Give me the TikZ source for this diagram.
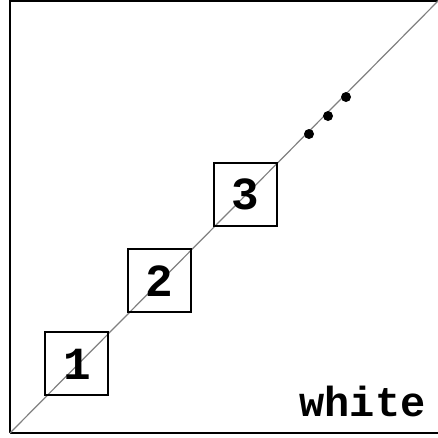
\documentclass[tikz,border=0pt]{standalone}
\usepackage{fontspec}
\newfontfamily\monob[BoldFont={Liberation Mono Bold}]{Liberation Mono}
\begin{document}
\begin{tikzpicture}[x=1pt,y=-1pt,
  numbox/.style={draw=black,line width=2.5pt,minimum size=63pt,inner sep=0pt},
  numtext/.style={font=\fontsize{46}{46}\monob\bfseries},
  diag/.style={draw=gray,line width=1.2pt},
  dotmark/.style={circle,fill=black,inner sep=0pt,minimum size=10pt}]
\useasboundingbox (0,0) rectangle (438,437);
\draw[line width=2.5pt] (10,433) -- (10,1) -- (460,1);
\draw[line width=2.5pt] (10,433) -- (460,433);
\coordinate (s) at (10,433);
\coordinate (e) at (440,-1);
\draw[diag] (s) -- (e);
\node[numbox] (b1) at (76.5,363.5) {};
\node[numbox] (b2) at (159.5,280.5) {};
\node[numbox] (b3) at (245.5,194.5) {};
\node[numtext] (t1) at (77,364) {1};
\node[numtext] (t2) at (159,281) {2};
\node[numtext] (t3) at (245,194) {3};
\node[dotmark] (d1) at (309,134) {};
\node[dotmark] (d2) at (328,116) {};
\node[dotmark] (d3) at (346,97) {};
\node[font=\fontsize{42}{42}\monob\bfseries,anchor=base east] (w) at (429,416) {white};
\end{tikzpicture}
\end{document}
